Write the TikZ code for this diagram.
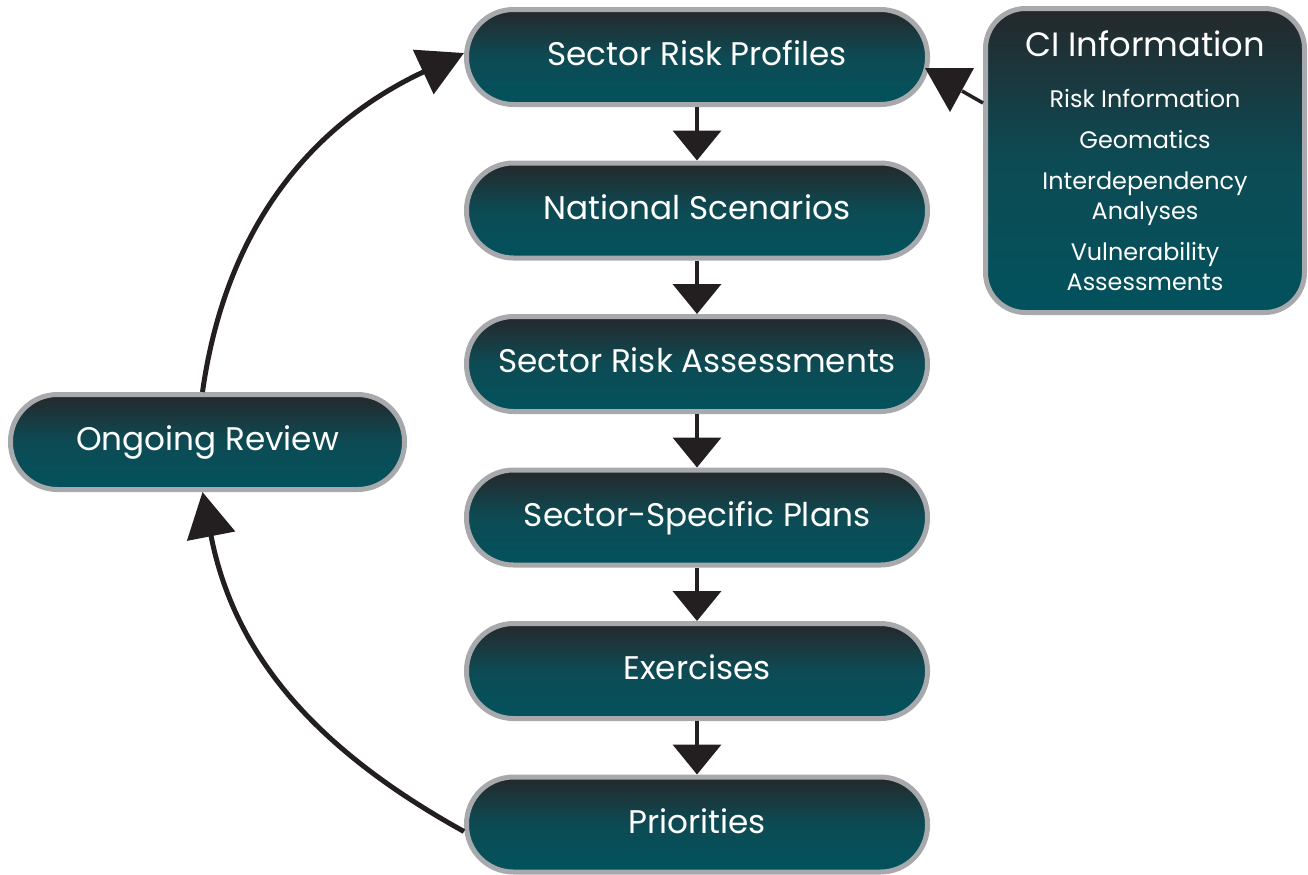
\documentclass[tikz,border=0pt]{standalone}
\usepackage{fontspec}
\setmainfont{Poppins}
\usepackage{tikz}
\usetikzlibrary{arrows.meta}
\definecolor{boxtop}{HTML}{25282B}
\definecolor{boxmid}{HTML}{0D4B54}
\definecolor{boxbot}{HTML}{02525D}
\definecolor{boxrim}{HTML}{A7A9AC}
\definecolor{ink}{HTML}{231F20}

\begin{document}
\begin{tikzpicture}[
    tealbox/.style={draw=boxrim, line width=0.05cm,
      top color=boxtop, bottom color=boxbot, middle color=boxmid, text=white},
    stagebox/.style={tealbox, rounded corners=0.47cm,
      minimum width=4.61cm, minimum height=0.95cm,
      text height=0.25cm, text depth=0.08cm,
      font=\fontsize{9.3}{11}\selectfont},
    flowarrow/.style={draw=ink, line width=0.04cm, -{Triangle[width=0.48cm,length=0.3cm]}},
    cyclearrow/.style={draw=ink, line width=0.05cm, -{Triangle[width=0.48cm,length=0.45cm]}}
  ]
  \useasboundingbox (0,0) rectangle (13.08,-8.74);
  %% main column
  \node[stagebox] (srp) at (6.97,-0.57) {Sector Risk Profiles};
  \node[stagebox] (ns) at (6.97,-2.105) {National Scenarios};
  \node[stagebox] (sra) at (6.97,-3.64) {Sector Risk Assessments};
  \node[stagebox] (ssp) at (6.97,-5.175) {Sector-Specific Plans};
  \node[stagebox] (ex) at (6.97,-6.71) {Exercises};
  \node[stagebox] (pri) at (6.97,-8.245) {Priorities};
  %% review and information
  \node[stagebox, minimum width=3.94cm] (or) at (2.075,-4.42) {Ongoing Review};
  \node[tealbox, rounded corners=0.4cm, minimum width=3.19cm, minimum height=3.04cm,
    align=center, font=\fontsize{6.8}{8.6}\selectfont] (ci) at (11.45,-1.605)
    {{\fontsize{9.6}{9.6}\selectfont CI Information}\\[6pt]
     Risk Information\\[3pt]
     Geomatics\\[3pt]
     Interdependency\\
     Analyses\\[3pt]
     Vulnerability\\
     Assessments};
  %%
  \path (srp) edge[flowarrow] (ns);
  \path (ns) edge[flowarrow] (sra);
  \path (sra) edge[flowarrow] (ssp);
  \path (ssp) edge[flowarrow] (ex);
  \path (ex) edge[flowarrow] (pri);
  %%
  \path ([xshift=-0.05cm]or.north) edge[cyclearrow, out=82, in=205] ([yshift=0.04cm]srp.west);
  \path ([yshift=-0.07cm]pri.west) edge[cyclearrow, out=151, in=-79] ([xshift=-0.05cm]or.south);
  %% CI link
  \coordinate (cihead) at (9.62,-0.91);
  \draw[ink, line width=0.035cm] ([yshift=0.575cm]ci.west) -- (cihead);
  \fill[ink] (9.25,-0.68) -- (9.74,-0.68) -- (9.50,-1.12) -- cycle;
\end{tikzpicture}
\end{document}
